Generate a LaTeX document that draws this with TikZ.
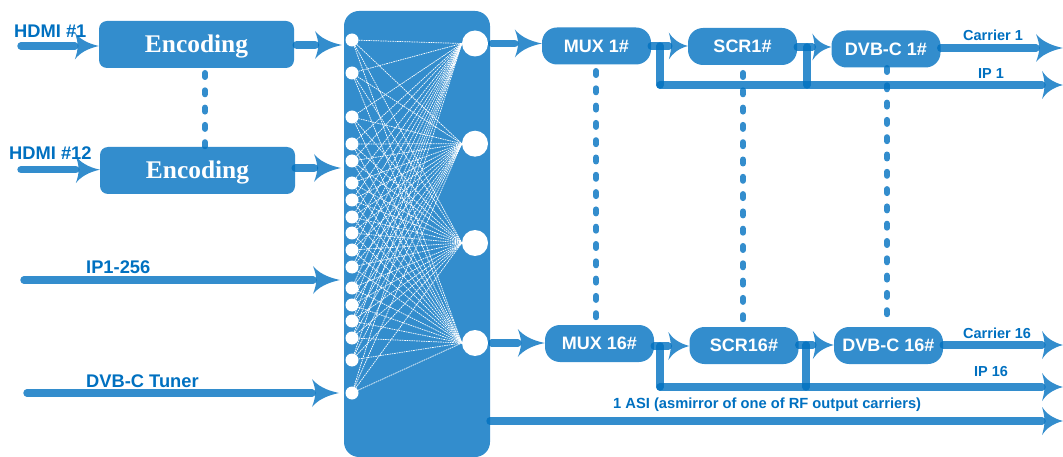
\documentclass[tikz,border=0pt]{standalone}
\usepackage{fontspec}
\setmainfont{Liberation Sans}
\newfontfamily\serifbold{Liberation Serif}
\usetikzlibrary{arrows.meta}
\definecolor{hue}{HTML}{0070C0}
\pgfdeclarearrow{
  name=Barb,
  defaults={length=27pt,width=27pt},
  parameters={\the\pgfarrowlength,\the\pgfarrowwidth},
  setup code={
    \pgfarrowssettipend{0pt}
    \pgfarrowssetbackend{-\pgfarrowlength+5.5pt}
    \pgfarrowssetlineend{-\pgfarrowlength+5.5pt}
    \pgfarrowssavethe\pgfarrowlength
    \pgfarrowssavethe\pgfarrowwidth
  },
  drawing code={
    \pgfpathmoveto{\pgfpointorigin}
    \pgfpathcurveto{\pgfpoint{-0.5\pgfarrowlength}{0.1\pgfarrowwidth}}{\pgfpoint{-0.8\pgfarrowlength}{0.27\pgfarrowwidth}}{\pgfpoint{-\pgfarrowlength}{0.5\pgfarrowwidth}}
    \pgfpathcurveto{\pgfpoint{-0.93\pgfarrowlength}{0.33\pgfarrowwidth}}{\pgfpoint{-0.88\pgfarrowlength}{0.15\pgfarrowwidth}}{\pgfpoint{-0.88\pgfarrowlength}{0pt}}
    \pgfpathcurveto{\pgfpoint{-0.88\pgfarrowlength}{-0.15\pgfarrowwidth}}{\pgfpoint{-0.93\pgfarrowlength}{-0.33\pgfarrowwidth}}{\pgfpoint{-\pgfarrowlength}{-0.5\pgfarrowwidth}}
    \pgfpathcurveto{\pgfpoint{-0.8\pgfarrowlength}{-0.27\pgfarrowwidth}}{\pgfpoint{-0.5\pgfarrowlength}{-0.1\pgfarrowwidth}}{\pgfpointorigin}
    \pgfpathclose
    \pgfusepathqfill
  }
}
\tikzset{
  x=1pt,y=-1pt,
  box/.style={fill=hue,fill opacity=.8,text opacity=1,text=white,inner sep=0pt,rounded corners=#1},
  encbox/.style={box=8pt,minimum width=195pt,minimum height=47pt,text height=16pt,text depth=0pt,font=\serifbold\bfseries\fontsize{25.4}{25}\selectfont},
  pillbox/.style={box=15pt,minimum width=109pt,minimum height=37pt,font=\bfseries\fontsize{18}{18}\selectfont},
  link/.style={draw=hue,opacity=.8,line width=7.4pt,line cap=round},
  arrowA/.style={link,-{Barb[length=27pt,width=28pt]}},
  arrowB/.style={link,-{Barb[length=24pt,width=27pt]}},
  arrowC/.style={link,-{Barb[length=21pt,width=28pt]}},
  arrowD/.style={link,-{Barb[length=19pt,width=27pt]}},
  dotted link/.style={draw=hue,opacity=.8,line width=6pt,line cap=round,dash pattern=on 4pt off 13.3pt},
  fan/.style={draw=white,line width=.7pt,dash pattern=on 1.6pt off .8pt},
  inport/.style={circle,fill=white,inner sep=0pt,minimum size=13pt},
  outport/.style={circle,fill=white,inner sep=0pt,minimum size=26pt},
  biglabel/.style={text=hue,font=\bfseries\fontsize{18.3}{18}\selectfont,anchor=west,inner sep=0pt},
  smalllabel/.style={text=hue,font=\bfseries\fontsize{14.5}{14}\selectfont,anchor=west,inner sep=0pt},
}
\begin{document}
\begin{tikzpicture}
\useasboundingbox (0,0) rectangle (1063,457);

% switch block
\node[box=15pt,minimum width=146pt,minimum height=446pt] (sw) at (417,234) {};

% ports
\foreach \n/\yy in {1/40,2/73,3/117,4/144,5/161,6/183,7/200,8/217,9/233,10/250,11/267,12/288,13/305,14/321,15/338,16/360,17/393}
  \node[inport] (i\n) at (352,\yy) {};
\foreach \n/\yy in {1/43.5,2/143.7,3/243,4/343}
  \node[outport] (o\n) at (475,\yy) {};
\foreach \n in {1,...,17}
  \foreach \m in {1,...,4}
    \draw[fan] (i\n) -- (o\m.west);

% processing boxes
\node[encbox] (enc1) at (196.5,44.5) {Encoding};
\node[encbox] (enc2) at (197.5,170.5) {Encoding};
\node[pillbox] (mux1) at (596.5,46) {MUX 1\#};
\node[pillbox] (scr1) at (742.5,46.5) {SCR1\#};
\node[pillbox] (dvb1) at (886,49) {DVB-C 1\#};
\node[pillbox] (mux16) at (599.5,343.5) {MUX 16\#};
\node[pillbox] (scr16) at (744,345.5) {SCR16\#};
\node[pillbox] (dvb16) at (888.5,345.5) {DVB-C 16\#};

% free ends
\coordinate (a1) at (21,46);
\coordinate (a2) at (21,169.7);
\coordinate (a3) at (24,280);
\coordinate (a4) at (27,393);
\coordinate (t3) at (340,280);
\coordinate (t4) at (339,393);
\coordinate (s1) at (342,45);
\coordinate (s2) at (341,168);
\coordinate (c1) at (1063,48);
\coordinate (c16) at (1063,345);
\coordinate (ip1) at (1063,85);
\coordinate (ip16) at (1063,387);
\coordinate (asi0) at (490,421);
\coordinate (asi) at (1063,421);
\coordinate (j1) at (660,46);
\coordinate (j1b) at (660,85);
\coordinate (j2) at (807,47);
\coordinate (j2b) at (807,85);
\coordinate (j3) at (660,346);
\coordinate (j3b) at (660,387);
\coordinate (j4) at (806,345);
\coordinate (j4b) at (806,387);

% inputs
\draw[arrowB] (a1) -- (a1 -| enc1.west);
\draw[arrowB] (a2) -- (a2 -| enc2.west);
\draw[arrowA] (a3) -- (t3);
\draw[arrowA] (a4) -- (t4);
\draw[arrowA,line width=8.5pt] ([xshift=2.5pt]s1 -| enc1.east) -- (s1);
\draw[arrowA,line width=8.5pt] ([xshift=.5pt]s2 -| enc2.east) -- (s2);

% first chain
\draw[arrowA] ([xshift=3.5pt]o1.east) -- (mux1.west |- o1.east);
\draw[arrowD] (j1 -| mux1.east) -- (j1 -| scr1.west);
\draw[arrowD] (j2 -| scr1.east) -- (j2 -| dvb1.west);
\draw[arrowA] (c1 -| dvb1.east) -- (c1);
\draw[link] (j1) -- (j1b);
\draw[link] (j2) -- (j2b);
\draw[arrowC] (j1b) -- (ip1);

% last chain
\draw[arrowA] ([xshift=3.5pt]o4.east) -- (mux16.west |- o4.east);
\draw[arrowC] (j3 -| mux16.east) -- (j3 -| scr16.west);
\draw[arrowC] (j4 -| scr16.east) -- (j4 -| dvb16.west);
\draw[arrowC] (c16 -| dvb16.east) -- (c16);
\draw[link] (j3) -- (j3b);
\draw[link] (j4) -- (j4b);
\draw[arrowC] (j3b) -- (ip16);
\draw[arrowC] (asi0) -- (asi);

% dotted continuation marks
\coordinate (d1) at (205,73);
\coordinate (d2) at (205,149);
\coordinate (d3) at (596,71);
\coordinate (d4) at (596,320);
\coordinate (d5) at (743,73);
\coordinate (d6) at (743,322);
\coordinate (d7) at (887,68);
\coordinate (d8) at (887,327);
\draw[dotted link] (d1) -- (d2);
\draw[dotted link] (d3) -- (d4);
\draw[dotted link] (d5) -- (d6);
\draw[dotted link] (d7) -- (d8);

% labels
\node[biglabel] (l1) at (14,31) {HDMI \#1};
\node[biglabel] (l2) at (9,153) {HDMI \#12};
\node[biglabel] (l3) at (86,267) {IP1-256};
\node[biglabel] (l4) at (86,381) {DVB-C Tuner};
\node[smalllabel] (l5) at (963,35) {Carrier 1};
\node[smalllabel] (l6) at (978,74) {IP 1};
\node[smalllabel] (l7) at (963,333) {Carrier 16};
\node[smalllabel] (l8) at (974,372) {IP 16};
\node[smalllabel,font=\bfseries\fontsize{14.7}{14}\selectfont] (l9) at (613,405) {1 ASI (asmirror of one of RF output carriers)};
\end{tikzpicture}
\end{document}
